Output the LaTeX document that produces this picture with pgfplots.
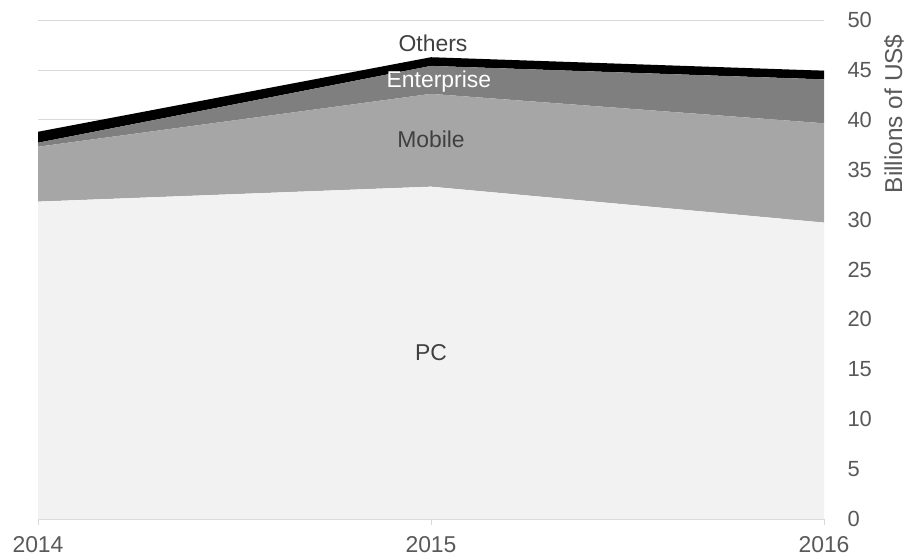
\documentclass[border=0pt]{standalone}
\usepackage{pgfplots}
\pgfplotsset{compat=1.18}
\usepackage{fontspec}
\setmainfont{Liberation Sans}
\definecolor{pcc}{HTML}{F2F2F2}
\definecolor{mobc}{HTML}{A6A6A6}
\definecolor{entc}{HTML}{7F7F7F}
\definecolor{othc}{HTML}{000000}
\definecolor{gridc}{HTML}{D9D9D9}
\definecolor{tickc}{HTML}{595959}
\definecolor{labc}{HTML}{404040}
\begin{document}
\begin{tikzpicture}
\useasboundingbox (-38bp,-37bp) rectangle (871bp,519bp);
\begin{axis}[
  scale only axis,
  width=786bp, height=499bp,
  xmin=2014, xmax=2016, ymin=0, ymax=50,
  xtick={2014,2015,2016},
  ytick={0,5,...,50},
  axis x line*=bottom,
  axis y line*=right,
  axis line style={-},
  x axis line style={draw=gridc, line width=0.75bp},
  y axis line style={draw=none},
  ymajorgrids,
  grid style={draw=gridc, line width=0.75bp},
  xtick style={draw=gridc, line width=0.75bp},
  ytick style={draw=none},
  tick align=outside,
  major tick length=6bp,
  /pgf/number format/assume math mode=true,
  /pgf/number format/1000 sep={},
  ticklabel style={text=tickc},
  xticklabel style={font=\fontsize{23}{27}\selectfont, yshift=-8bp},
  yticklabel style={font=\fontsize{22}{26}\selectfont, anchor=west, xshift=14bp},
  yticklabel pos=right,
  ylabel={Billions of US\$},
  every axis y label/.style={at={(rel axis cs:1.089,0.812)}, rotate=90, anchor=center, inner sep=0pt, font=\fontsize{24.5}{29}\selectfont, text=tickc},
  stack plots=y,
  clip=false,
]
\addplot[fill=pcc, draw=none] coordinates {(2014,31.8) (2015,33.3) (2016,29.7)} \closedcycle;
\addplot[fill=mobc, draw=none] coordinates {(2014,5.5) (2015,9.3) (2016,9.95)} \closedcycle;
\addplot[fill=entc, draw=none] coordinates {(2014,0.4) (2015,2.8) (2016,4.4)} \closedcycle;
\addplot[fill=othc, draw=none] coordinates {(2014,1.1) (2015,0.87) (2016,0.87)} \closedcycle;
\coordinate (lo) at (axis cs:2015.005,47.7);
\coordinate (le) at (axis cs:2015.02,43.8);
\coordinate (lm) at (axis cs:2015,38.0);
\coordinate (lp) at (axis cs:2015,16.7);
\end{axis}
\node[font=\fontsize{23}{27}\selectfont, text=labc] at (lo) {Others};
\node[font=\fontsize{23}{27}\selectfont, text=white] at (le) {Enterprise};
\node[font=\fontsize{23}{27}\selectfont, text=labc] at (lm) {Mobile};
\node[font=\fontsize{23}{27}\selectfont, text=labc] at (lp) {PC};
\end{tikzpicture}
\end{document}
